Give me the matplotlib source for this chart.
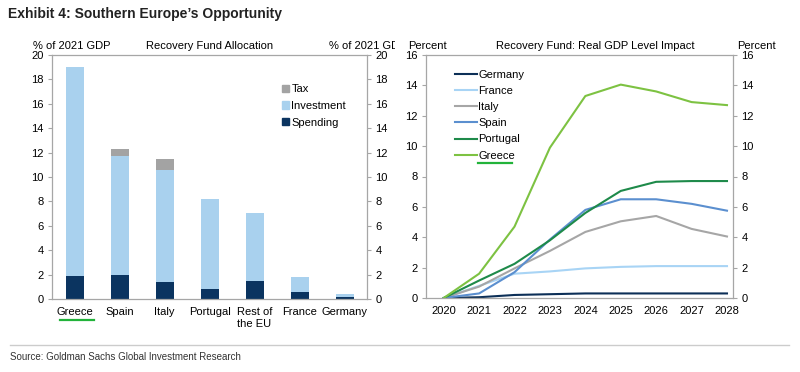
import matplotlib
matplotlib.use("Agg")
import matplotlib.pyplot as plt
import numpy as np
from matplotlib.lines import Line2D
from matplotlib.patches import Rectangle

plt.rcParams['font.family'] = ['Liberation Sans', 'DejaVu Sans']

# ---- data: left chart
countries = ["Greece", "Spain", "Italy", "Portugal", "Rest of\nthe EU", "France", "Germany"]
spending = [1.9, 2.0, 1.4, 0.8, 1.5, 0.55, 0.15]
investment = [17.1, 9.7, 9.2, 7.4, 5.55, 1.25, 0.25]
tax = [0.0, 0.6, 0.9, 0.0, 0.0, 0.0, 0.0]

# ---- data: right chart
years = [2020, 2021, 2022, 2023, 2024, 2025, 2026, 2027, 2028]
germany = [0, 0.05, 0.2, 0.25, 0.3, 0.3, 0.3, 0.3, 0.3]
france = [0, 0.8, 1.6, 1.75, 1.95, 2.05, 2.1, 2.1, 2.1]
italy = [0, 0.75, 1.95, 3.1, 4.35, 5.05, 5.4, 4.55, 4.05]
spain = [0, 0.3, 1.7, 3.85, 5.8, 6.5, 6.5, 6.2, 5.75]
portugal = [0, 1.15, 2.25, 3.8, 5.6, 7.05, 7.65, 7.7, 7.7]
greece = [0, 1.6, 4.7, 9.9, 13.3, 14.05, 13.6, 12.9, 12.7]

W, H = 800, 372
fig = plt.figure(figsize=(8, 3.72), dpi=100)
fig.patch.set_facecolor("white")

def fx(px):
    return px / W

def fy(py):
    return 1 - py / H

spine_col = "#a6a6a6"
fs = 8

def style_axes(ax):
    for s in ax.spines.values():
        s.set_color(spine_col)
        s.set_linewidth(0.9)
    ax.tick_params(axis="y", which="both", direction="out", length=3, color=spine_col,
                   labelsize=fs, left=True, right=True, labelleft=True, labelright=True, pad=3)
    ax.tick_params(axis="x", length=0, labelsize=fs, pad=6)

# ---- left axes
ax1 = fig.add_axes([fx(52), fy(299), fx(367 - 52), (299 - 55) / H])
x = np.arange(len(countries))
c_sp, c_inv, c_tax = "#0b3460", "#a9d1ee", "#a3a3a3"
bw = 0.4
ax1.bar(x, spending, bw, color=c_sp, label="Spending")
ax1.bar(x, investment, bw, bottom=spending, color=c_inv, label="Investment")
bot2 = [s + i for s, i in zip(spending, investment)]
ax1.bar(x, tax, bw, bottom=bot2, color=c_tax, label="Tax")
ax1.set_xlim(-0.5, len(countries) - 0.5)
ax1.set_ylim(0, 20)
ax1.set_yticks(range(0, 21, 2))
ax1.set_xticks(x)
ax1.set_xticklabels(countries)
style_axes(ax1)
ax1.set_axisbelow(True)
handles = [Rectangle((0, 0), 1, 1, color=c_tax), Rectangle((0, 0), 1, 1, color=c_inv),
           Rectangle((0, 0), 1, 1, color=c_sp)]
ax1.legend(handles, ["Tax", "Investment", "Spending"], loc="upper left",
           bbox_to_anchor=((282 - 52) / 315, (299 - 84) / 244), frameon=False, fontsize=fs,
           handlelength=0.6, handleheight=0.6, handletextpad=0.25, labelspacing=0.62,
           borderaxespad=0, borderpad=0)

# ---- right axes
ax2 = fig.add_axes([fx(426), fy(298), fx(733 - 426), (298 - 55) / H])
series = [("Germany", germany, "#0c2f57"), ("France", france, "#a8d4f5"),
          ("Italy", italy, "#a6a6a6"), ("Spain", spain, "#5b8fcf"),
          ("Portugal", portugal, "#1e8a4a"), ("Greece", greece, "#7dc242")]
for name, vals, col in series:
    ax2.plot(years, vals, color=col, lw=1.5, label=name)
ax2.set_xlim(2019.5, 2028.17)
ax2.set_ylim(0, 16)
ax2.set_yticks(range(0, 17, 2))
ax2.set_xticks(years)
style_axes(ax2)
ax2.legend(loc="upper left", bbox_to_anchor=((455 - 426) / 307, (298 - 70) / 243),
           frameon=False, fontsize=fs, handlelength=2.0, handletextpad=0.1,
           labelspacing=0.55, borderaxespad=0, borderpad=0)

# ---- header texts
fig.text(fx(8), fy(14), "Exhibit 4: Southern Europe\u2019s Opportunity", fontsize=10,
         fontweight="bold", family=["Liberation Sans Narrow", "Liberation Sans", "DejaVu Sans"],
         va="center", ha="left", color="#222222")
fig.text(fx(33), fy(46), "% of 2021 GDP", fontsize=fs, va="center", ha="left")
fig.text(fx(210), fy(46), "Recovery Fund Allocation", fontsize=fs, va="center", ha="center")
t = fig.text(fx(329), fy(46), "% of 2021 GDP", fontsize=fs, va="center", ha="left")
t.set_clip_box(matplotlib.transforms.TransformedBbox(
    matplotlib.transforms.Bbox([[0, 0], [fx(395), 1]]), fig.transFigure))
fig.text(fx(408), fy(46), "Percent", fontsize=fs, va="center", ha="left")
fig.text(fx(595), fy(46), "Recovery Fund: Real GDP Level Impact", fontsize=fs, va="center", ha="center")
fig.text(fx(737), fy(46), "Percent", fontsize=fs, va="center", ha="left")

# separator and source
fig.add_artist(Line2D([fx(10), fx(789)], [fy(345), fy(345)], color="#cccccc", lw=1,
                      transform=fig.transFigure))
fig.text(fx(10), fy(357), "Source: Goldman Sachs Global Investment Research", fontsize=7,
         family=["Liberation Sans Narrow", "Liberation Sans", "DejaVu Sans"],
         va="center", ha="left", color="#333333")

# green underline annotations
g = "#22b33a"
fig.add_artist(Line2D([fx(60), fx(94)], [fy(320), fy(320)], color=g, lw=1.6,
                      transform=fig.transFigure))
fig.add_artist(Line2D([fx(478), fx(512)], [fy(163), fy(163)], color=g, lw=1.6,
                      transform=fig.transFigure))

fig.savefig("out.png", dpi=100, facecolor="white")
